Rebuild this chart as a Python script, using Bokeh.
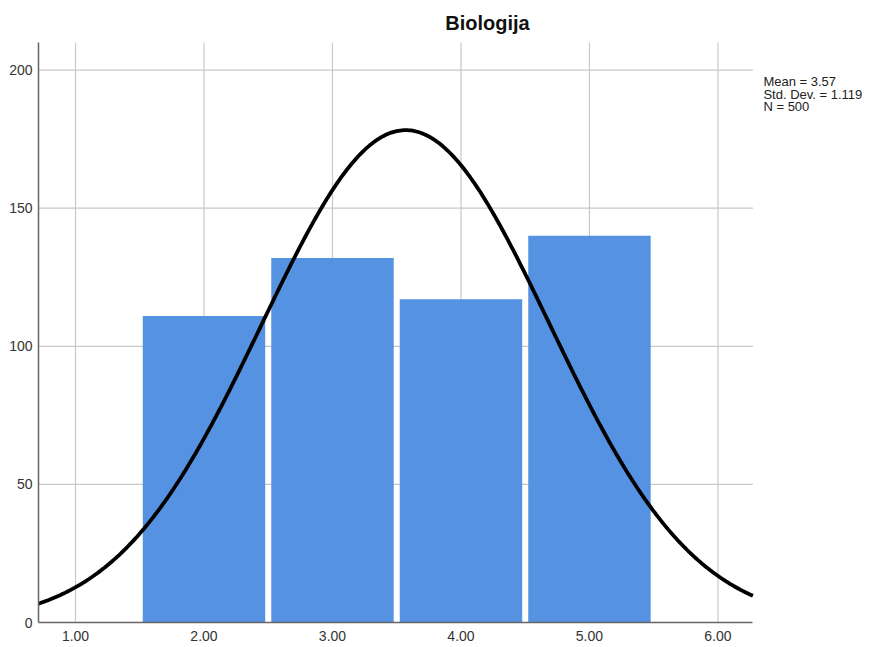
import numpy as np
from bokeh.plotting import figure
from bokeh.models import Range1d, FixedTicker, NumeralTickFormatter
from bokeh.core.properties import value
from bokeh.embed import file_html
from bokeh.resources import INLINE

# Data
bin_centers = [2.0, 3.0, 4.0, 5.0]
counts = [111, 132, 117, 140]
mean = 3.57
std_dev = 1.119
n_total = 500
bin_width = 1.0
x_ticks = [1, 2, 3, 4, 5, 6]
y_ticks = [0, 50, 100, 150, 200]
title_text = "Biologija"
stats_lines = ["Mean = 3.57", "Std. Dev. = 1.119", "N = 500"]

FONT = "Liberation Sans"

# plot-area extents (data units) and a wider frame so texts can be drawn as glyphs
x_lo, x_hi = 0.712, 6.272
y_lo, y_hi = 0, 210
x_frame_end = 7.195
y_frame_end = 225.2

p = figure(width=871, height=647, output_backend="svg", toolbar_location=None,
           x_range=Range1d(x_lo, x_frame_end), y_range=Range1d(y_lo, y_frame_end),
           min_border_left=38, min_border_right=0, min_border_top=0, min_border_bottom=25)
p.outline_line_color = None
p.background_fill_color = "white"
p.border_fill_color = "white"
p.xgrid.visible = False
p.ygrid.visible = False

GRID = "#c8c8c8"
# vertical grid lines
p.segment(x0=x_ticks, y0=[y_lo] * len(x_ticks), x1=x_ticks, y1=[y_hi] * len(x_ticks),
          line_color=GRID, line_width=1.2)
# horizontal grid lines
hy = [t for t in y_ticks if t > 0]
p.segment(x0=[x_lo] * len(hy), y0=hy, x1=[x_hi] * len(hy), y1=hy,
          line_color=GRID, line_width=1.2)

# bars
p.vbar(x=bin_centers, top=counts, width=0.953, bottom=0,
       fill_color="#5592e1", line_color=None)

# normal curve from the stated mean, sd and N
xs = np.linspace(x_lo, x_hi, 400)
ys = n_total * bin_width / (std_dev * np.sqrt(2 * np.pi)) * np.exp(-0.5 * ((xs - mean) / std_dev) ** 2)
p.line(xs, ys, line_color="black", line_width=3.8)

# axes
for ax in (p.xaxis, p.yaxis):
    ax.axis_line_color = "#666666"
    ax.axis_line_width = 1.5
    ax.major_tick_line_color = None
    ax.minor_tick_line_color = None
    ax.major_tick_out = 0
    ax.major_tick_in = 0
    ax.minor_tick_out = 0
    ax.minor_tick_in = 0
    ax.major_label_text_font = FONT
    ax.major_label_text_font_size = "14px"
    ax.major_label_text_color = "#333333"
p.xaxis.ticker = FixedTicker(ticks=x_ticks)
p.xaxis.formatter = NumeralTickFormatter(format="0.00")
p.xaxis.major_label_standoff = 8
p.xaxis.bounds = (x_lo, x_hi)
p.yaxis.ticker = FixedTicker(ticks=y_ticks)
p.yaxis.major_label_standoff = 6
p.yaxis.bounds = (y_lo, y_hi)

# title
p.text(x=[4.206], y=[217.2], text=[title_text], text_font=value(FONT),
       text_font_size="20px", text_font_style="bold", text_color="#111111",
       text_align="center", text_baseline="middle")

# stats text
p.text(x=[6.354] * 3, y=[195.9, 191.3, 186.8], text=stats_lines, text_font=value(FONT),
       text_font_size="13px", text_color="#222222",
       text_align="left", text_baseline="middle")

open("out.html", "w").write(file_html(p, INLINE))
